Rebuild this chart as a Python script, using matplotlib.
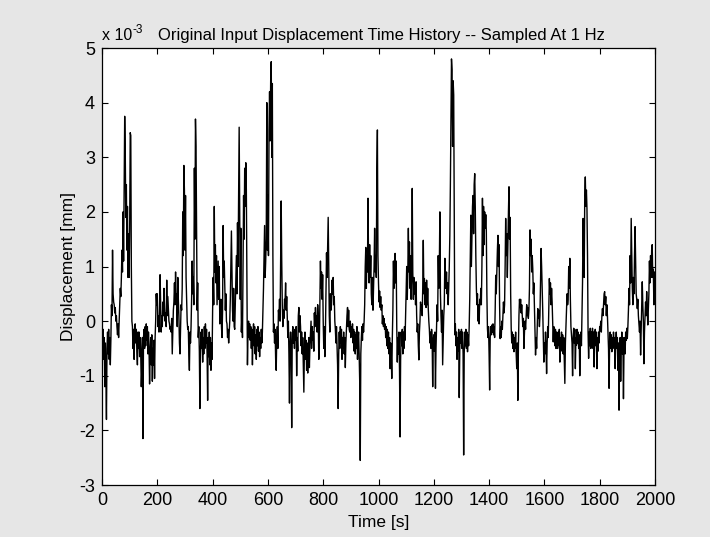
import numpy as np
import matplotlib
matplotlib.use('Agg')
import matplotlib.pyplot as plt
from matplotlib.transforms import offset_copy

# displacement samples, in units of 1e-3 mm, one every 2 s
# (each row covers 20 s, the row label is the start time)
disp_e3 = [
    -0.2, -0.55, -0.15, -0.7, -0.3, -1.2, -0.4, -1.0, -1.8, -0.5,        # 0
    -0.2, -0.6, -0.15, -0.7, -0.3, -0.8, -0.35, 0.3, 0.1, 1.3,           # 20
    0.5, 0.35, 0.3, 0.15, 0.25, 0.0, 0.1, -0.1, -0.25, -0.05,            # 40
    -0.3, 0.0, 0.3, 0.6, 0.45, 0.8, 1.3, 0.9, 2.0, 1.1,                  # 60
    2.4, 3.75, 3.1, 1.9, 2.5, 1.3, 2.1, 0.8, 1.6, 0.8,                   # 80
    1.7, 3.45, 3.4, 1.0, 0.0, -0.1, -0.5, -0.15, -0.7, -0.25,            # 100
    -0.05, -0.4, -0.15, -0.55, -0.8, -0.2, -0.5, -0.2, -0.65, -0.3,      # 120
    -0.6, -1.2, -0.9, -0.3, -2.15, -0.3, -0.15, -0.5, -0.1, -0.45,       # 140
    -0.05, -0.35, -0.1, -0.6, -0.2, -0.5, -1.15, -0.6, -0.3, -0.8,       # 160
    -0.25, -1.1, -0.5, -0.8, -0.35, -1.05, -0.3, 0.0, 0.5, 0.3,          # 180
    0.5, -0.1, 0.1, -0.2, 0.2, 0.85, 0.3, -0.2, 0.1, -0.1,               # 200
    0.35, 0.1, 0.6, 0.25, 0.0, 0.15, -0.1, 0.75, 0.1, 0.45,              # 220
    0.2, 0.0, -0.05, -0.15, -0.1, -0.2, 0.05, -0.6, -0.2, 0.2,           # 240
    0.35, 0.7, 0.3, 0.9, 0.4, 0.5, -0.1, 0.8, 0.4, 0.1,                  # 260
    -0.4, -0.6, -0.1, 0.3, 0.2, 0.6, 2.0, 1.2, 2.85, 2.4,                # 280
    1.3, 2.3, 0.8, 0.4, 0.0, -0.15, -0.1, -0.6, -0.9, -0.2,              # 300
    -0.4, -0.1, 0.4, 1.1, 0.5, 0.8, 0.3, 2.8, 1.5, 3.7,                  # 320
    3.2, 1.8, 0.2, 0.7, -0.3, -0.1, -0.55, -1.6, -0.6, -0.2,             # 340
    -0.5, -0.15, -0.75, -0.3, -0.6, -0.1, -0.5, -0.05, -0.4, -0.15,      # 360
    -0.6, -1.45, -0.3, -0.65, -0.2, -0.8, -0.3, -0.9, -0.4, -0.7,        # 380
    0.2, 0.8, 0.3, 2.1, 0.9, 1.4, 0.7, 1.2, 0.3, 0.7,                    # 400
    1.1, 0.4, 1.0, -0.05, 0.1, 0.4, -0.1, -0.3, 0.2, 1.75,               # 420
    0.8, 1.1, 0.6, 0.2, 0.5, 0.0, -0.05, -0.3, -0.15, -0.4,              # 440
    -0.2, 0.0, 0.4, 1.0, 1.65, 0.9, 0.2, 0.0, 0.6, -0.1,                 # 460
    -0.15, 0.3, 0.8, 1.2, 0.5, 1.8, 1.0, 2.2, 3.55, 2.0,                 # 480
    0.4, 1.7, -0.2, 0.1, -0.3, 1.0, 2.3, 1.5, 2.8, 2.1,                  # 500
    2.9, 2.4, 0.8, -0.8, -0.2, 0.0, -0.3, -0.05, -0.35, -0.1,            # 520
    -0.5, -0.15, -0.8, -0.3, -0.05, -0.45, -0.1, -0.6, -0.25, -0.7,      # 540
    -0.15, -0.45, -0.1, -0.55, -0.2, -0.65, -0.3, -0.5, -0.15, -0.4,     # 560
    -0.2, 0.2, 0.6, 1.2, 1.75, 0.8, 1.1, 1.5, 4.0, 1.3,                  # 580
    2.3, 1.2, 3.5, 4.2, 3.3, 4.4, 4.75, 3.0, 4.35, 1.2,                  # 600
    -0.2, -0.05, -0.4, -0.15, -0.7, -0.9, -0.3, -0.1, -0.5, 0.2,         # 620
    0.1, 0.4, 0.0, 1.0, 2.2, 1.1, 0.3, -0.1, 0.2, 0.05,                  # 640
    0.4, 0.35, 0.7, 0.2, 0.45, 0.1, -0.3, 0.0, -0.6, -1.5,               # 660
    -0.4, -0.2, -0.55, -1.95, -0.3, -0.1, -0.4, -0.2, -0.5, -0.15,       # 680
    -0.35, -0.1, -1.0, -0.3, -0.55, 0.1, 0.25, -0.2, 0.1, -0.1,          # 700
    -0.45, -0.2, -0.6, -0.3, -0.8, -1.3, -0.5, -0.2, -0.7, -0.35,        # 720
    -0.9, -0.4, -0.95, -0.5, -0.3, -0.85, -0.45, -0.2, 0.0, -0.5,        # 740
    -0.1, -0.35, -0.2, -0.55, 0.15, -0.1, 0.25, 0.0, 0.1, -0.2,          # 760
    0.3, 0.1, -0.7, -0.4, 0.35, 1.1, 0.6, 0.9, 0.4, 0.85,                # 780
    0.0, -0.5, -0.1, -0.65, -0.2, 0.6, 1.25, 0.8, 1.3, 1.9,              # 800
    0.9, 0.1, -0.2, 0.5, 0.2, 0.3, 0.75, 0.5, 0.8, 0.3,                  # 820
    0.45, 0.0, -0.15, -0.4, -0.1, -0.45, -0.8, -1.6, -0.6, -0.2,         # 840
    -0.5, -0.1, -0.4, -0.15, -0.7, -0.3, -0.5, -0.2, -0.6, -0.3,         # 860
    -0.85, -0.4, -0.15, 0.1, 0.25, -0.1, 0.2, -0.15, -0.2, 0.0,          # 880
    -0.3, -0.1, -0.25, -0.05, -0.4, -0.15, -0.55, -0.2, -0.6, -0.25,     # 900
    -0.5, -0.1, -0.7, -0.35, -0.2, -0.6, -1.1, -2.55, -0.6, -0.3,        # 920
    -0.1, -0.35, -0.05, -0.2, 0.0, 0.3, 1.0, 1.35, 0.6, 1.2,             # 940
    0.9, 2.25, 1.1, 0.7, 1.4, 0.8, 1.2, 0.5, 0.3, 0.8,                   # 960
    0.2, 0.6, 1.0, 1.7, 0.9, 1.2, 0.8, 2.8, 3.5, 1.2,                    # 980
    0.7, 0.35, 0.55, 0.25, 0.45, 0.2, 0.3, -0.05, 0.1, -0.1,             # 1000
    0.05, -0.15, -0.05, -0.3, -0.1, -0.45, -0.15, -0.5, -0.2, -0.6,      # 1020
    -0.3, -0.87, -0.4, -0.6, -1.05, -0.3, 0.2, 1.1, 0.6, 1.0,            # 1040
    1.24, 0.7, 1.1, -0.1, -0.75, -0.3, -0.6, -0.2, -0.9, -2.12,          # 1060
    -0.7, -0.2, -0.45, -0.15, -0.6, -0.2, -0.5, -0.1, -0.35, 0.1,        # 1080
    0.5, 1.0, 0.4, 0.9, 1.7, 0.9, 1.45, 0.6, 1.2, 0.4,                   # 1100
    0.8, 2.43, 0.9, 0.4, 0.8, 0.5, 0.7, 0.3, 0.72, 0.1,                  # 1120
    -0.2, -0.05, -0.45, -0.71, -0.2, 0.0, 0.35, 0.2, 0.3, 0.1,           # 1140
    0.6, 1.48, 0.5, 0.78, 0.3, 0.7, 0.25, 0.75, 0.3, 0.6,                # 1160
    0.23, 0.0, -0.15, -0.4, -0.2, -0.5, -0.15, -0.3, -1.2, -0.4,         # 1180
    -0.25, -0.55, -0.2, -1.23, -0.5, -0.1, 0.3, 0.0, 1.2, 0.6,           # 1200
    1.0, 2.0, 0.5, 0.1, -0.2, 0.2, -0.8, -0.3, 0.1, 0.3,                 # 1220
    1.15, 0.8, 0.6, 0.9, 0.5, 0.7, 0.3, 0.6, 1.0, 1.57,                  # 1240
    2.5, 3.7, 4.8, 4.6, 3.2, 4.4, 4.14, 2.0, -0.25, -0.05,               # 1260
    -0.45, -0.2, -0.7, -0.3, -0.55, -0.15, -1.4, -0.5, -0.2, -0.4,       # 1280
    -0.15, -0.5, -0.2, -0.6, -2.45, -0.6, -0.2, -0.45, -0.15, -0.5,      # 1300
    -0.2, -0.56, -0.25, -0.45, -0.1, 0.4, 1.2, 1.94, 1.0, 1.5,           # 1320
    2.1, 2.3, 1.6, 2.5, 2.7, 2.1, 1.2, 0.6, 0.3, 0.5,                    # 1340
    0.0, 0.3, -0.05, 0.4, 0.3, 0.6, 0.3, 1.0, 2.25, 1.2,                 # 1360
    2.1, 1.4, 2.0, 1.7, 1.95, 1.65, 0.5, -0.13, -0.3, -0.1,              # 1380
    -0.6, -1.26, -0.3, -0.1, -0.25, -0.07, -0.2, -0.05, -0.25, -0.1,     # 1400
    -0.3, 0.2, 0.84, 0.5, 0.9, 1.3, 1.57, 1.0, 1.4, 0.3,                 # 1420
    -0.32, -0.1, -0.3, 0.0, -0.15, 0.1, 0.35, 0.15, 0.3, 1.0,            # 1440
    1.88, 1.2, 1.6, 0.8, 1.4, 2.0, 2.46, 1.5, 1.9, 0.5,                  # 1460
    -0.13, -0.4, -0.2, -0.5, -0.25, -0.56, -0.3, -0.5, -0.2, -0.6,       # 1480
    -0.87, -0.4, -1.45, -0.5, 0.1, 0.4, 0.25, 0.4, 0.15, 0.3,            # 1500
    0.1, -0.1, 0.05, -0.5, -0.2, 0.0, -0.15, 0.1, 0.3, 0.1,              # 1520
    0.25, 0.05, 0.2, 0.6, 1.67, 1.2, 1.5, 0.9, 1.2, 0.96,                # 1540
    0.5, 0.7, 0.23, -0.2, -0.62, -0.3, -0.5, -0.1, 0.23, 0.05,           # 1560
    0.2, -0.1, 0.1, 0.7, 1.33, 1.0, 0.6, 0.2, -0.3, -0.75,               # 1580
    -0.4, -0.6, -0.2, -0.5, -0.96, -0.4, -0.1, -0.3, 0.2, 0.78,          # 1600
    0.5, 0.7, 0.3, 0.6, 0.35, 0.0, -0.38, -0.1, -0.25, -0.45,            # 1620
    -0.15, -0.5, -0.2, -0.45, -0.5, -0.2, -0.45, -0.15, -0.75, -0.3,     # 1640
    -0.5, -0.2, -0.55, -0.25, -0.6, -0.3, -0.7, -1.14, -0.4, -0.1,       # 1660
    0.2, 0.5, 0.3, 0.4, 1.0, 0.6, 1.15, 0.4, -0.1, -0.25,                # 1680
    -0.4, -1.0, -0.3, -0.13, -0.4, -0.15, -0.87, -0.3, -0.44, -0.15,     # 1700
    -0.4, -0.2, -0.5, -0.25, -1.0, -0.4, -0.2, -0.45, 0.1, 0.72,         # 1720
    1.88, 1.2, 0.8, 2.3, 2.64, 2.1, 2.4, 2.06, 1.2, -0.2,                # 1740
    -0.68, -0.2, -0.45, -0.13, -0.5, -0.2, -0.4, -0.13, -0.5, -0.2,      # 1760
    -0.84, -0.3, -0.15, -0.45, -0.2, -0.87, -0.3, -0.55, -0.2, -0.4,     # 1780
    -0.1, -0.13, 0.0, -0.2, 0.1, 0.23, 0.1, 0.3, 0.5, 0.54,              # 1800
    0.3, 0.45, 0.1, 0.3, 0.1, -0.2, -0.5, -1.23, -0.4, -0.2,             # 1820
    -0.5, -0.25, -0.56, -0.3, -0.5, -0.2, -0.45, -0.3, -0.87, -0.4,      # 1840
    -0.2, -0.5, -0.3, -0.9, -0.4, -1.63, -0.6, -0.3, -1.1, -0.5,         # 1860
    -0.2, -0.6, -0.3, -1.42, -0.5, -0.3, -0.6, -0.2, -0.35, -0.13,       # 1880
    -0.32, -0.1, 0.2, 0.6, 0.3, 1.2, 0.7, 1.88, 1.2, 0.6,                # 1900
    0.3, 0.8, 0.5, 1.2, 1.73, 1.1, 0.5, 0.4, 0.23, 0.4,                  # 1920
    0.1, -0.05, -0.2, 0.0, -0.62, -0.2, 0.2, 0.72, 0.3, 0.0,             # 1940
    -0.78, -0.2, 0.1, 0.35, 0.1, 0.54, 0.2, -0.07, 0.2, 0.5,             # 1960
    1.1, 0.7, 1.2, 0.8, 1.3, 1.4, 0.8, 0.95, 0.3, 0.9,                   # 1980
    0.4,                                                                 # 2000
]
sample_step_s = 2
time_s = np.arange(len(disp_e3)) * sample_step_s

x_ticks = [0, 200, 400, 600, 800, 1000, 1200, 1400, 1600, 1800, 2000]
y_ticks = [-3, -2, -1, 0, 1, 2, 3, 4, 5]

font = ['Liberation Sans Narrow', 'Liberation Sans', 'DejaVu Sans']
plt.rcParams['font.family'] = font
plt.rcParams['axes.unicode_minus'] = False  # MATLAB prints a plain hyphen

fig = plt.figure(figsize=(7.1, 5.37), dpi=100, facecolor='#e6e6e6')
ax = fig.add_axes([0.1437, 0.0968, 0.7788, 0.8138])
ax.set_facecolor('white')

ax.plot(time_s, disp_e3, color='black', linewidth=1.0)

ax.set_xlim(0, 2000)
ax.set_ylim(-3, 5)
ax.set_xticks(x_ticks)
ax.set_yticks(y_ticks)
ax.tick_params(direction='in', length=4, width=0.8, top=True, right=True,
               labelsize=13, pad=5)
for s in ax.spines.values():
    s.set_linewidth(0.9)

ax.set_xlabel('Time [s]', fontsize=12.5, labelpad=4)
ax.set_ylabel('Displacement [mm]', fontsize=12.5, labelpad=2)
ax.set_title('Original Input Displacement Time History -- Sampled At 1 Hz',
             fontsize=12, pad=6, x=0.505)
# MATLAB-style exponent above the y axis: "x 10" with a raised "-3"
ax.text(0.0, 1.012, 'x 10', transform=ax.transAxes, fontsize=11.5,
        ha='left', va='bottom')
ax.text(0.0, 1.012, '-3', fontsize=8.5, ha='left', va='bottom',
        transform=offset_copy(ax.transAxes, fig=fig, x=30, y=7, units='dots'))

fig.savefig('out.png', dpi=100, facecolor=fig.get_facecolor())
